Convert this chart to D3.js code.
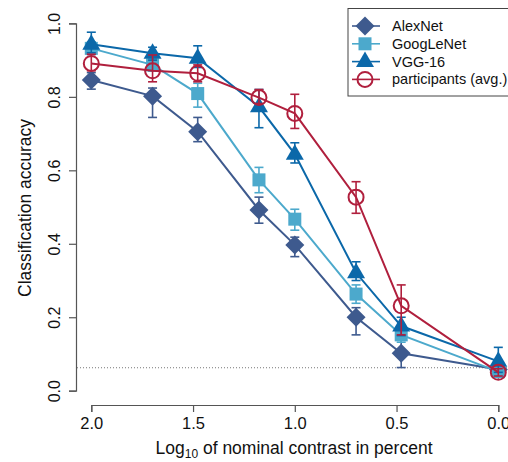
<!DOCTYPE html>
<html><head><meta charset="utf-8">
<script src="https://cdn.jsdelivr.net/npm/d3@7"></script>
<style>body{margin:0;background:#fff}svg{display:block;font-family:"Liberation Sans",Arial,sans-serif}</style>
</head><body><svg id="c" width="508" height="462"></svg>
<script>
const contrasts = [100, 50, 30, 15, 10, 5, 3, 1];
const xTicks = [2.0, 1.5, 1.0, 0.5, 0.0];
const yTicks = [0.0, 0.2, 0.4, 0.6, 0.8, 1.0];
const seriesNames = ["AlexNet", "GoogLeNet", "VGG-16", "participants (avg.)"];
const alexMean = [0.846, 0.802, 0.705, 0.492, 0.397, 0.200, 0.102, 0.058];
const alexLo   = [0.821, 0.744, 0.678, 0.456, 0.365, 0.152, 0.063, 0.050];
const alexHi   = [0.866, 0.824, 0.744, 0.527, 0.418, 0.226, 0.140, 0.066];
const googMean = [0.932, 0.887, 0.809, 0.574, 0.467, 0.263, 0.152, 0.052];
const googLo   = [0.915, 0.870, 0.772, 0.539, 0.437, 0.238, 0.132, 0.045];
const googHi   = [0.950, 0.905, 0.837, 0.608, 0.494, 0.288, 0.170, 0.060];
const vggMean  = [0.943, 0.919, 0.905, 0.773, 0.644, 0.321, 0.176, 0.080];
const vggLo    = [0.920, 0.900, 0.880, 0.716, 0.620, 0.300, 0.150, 0.050];
const vggHi    = [0.976, 0.935, 0.939, 0.820, 0.675, 0.351, 0.200, 0.118];
const partMean = [0.891, 0.871, 0.864, 0.798, 0.755, 0.527, 0.231, 0.050];
const partLo   = [0.871, 0.841, 0.841, 0.782, 0.714, 0.483, 0.152, 0.040];
const partHi   = [0.916, 0.914, 0.887, 0.820, 0.807, 0.569, 0.288, 0.060];
const chance = 1/16;
const colors = ["#3e5a8e", "#4ca9cc", "#0b68a9", "#b01f3d"];
const shapes = ["diamond", "square", "triangle", "circle"];

const series = [
  {name: seriesNames[0], mean: alexMean, lo: alexLo, hi: alexHi},
  {name: seriesNames[1], mean: googMean, lo: googLo, hi: googHi},
  {name: seriesNames[2], mean: vggMean, lo: vggLo, hi: vggHi},
  {name: seriesNames[3], mean: partMean, lo: partLo, hi: partHi}
];
const logC = contrasts.map(c => Math.log10(c));

const svg = d3.select("#c");
const x = d3.scaleLinear().domain([2, 0]).range([91.3, 498.3]);
const y = d3.scaleLinear().domain([0, 1]).range([390.7, 23.4]);

// axes (R style)
const xAxis = svg.append("g").attr("transform", "translate(0,405)")
  .call(d3.axisBottom(x).tickValues(xTicks).tickFormat(d3.format(".1f")).tickSize(7).tickPadding(5));
xAxis.selectAll("text").attr("font-size", 16.5).attr("fill", "#111");
const yAxis = svg.append("g").attr("transform", "translate(76,0)")
  .call(d3.axisLeft(y).tickValues(yTicks).tickFormat(d3.format(".1f")).tickSize(7));
yAxis.selectAll(".tick text").attr("font-size", 16).attr("fill", "#111")
  .attr("x", 0).attr("dy", null).attr("text-anchor", "middle")
  .attr("transform", "translate(-16,0) rotate(-90)");
svg.selectAll(".domain").attr("stroke", "#555").attr("stroke-width", 1.2);
svg.selectAll(".tick line").attr("stroke", "#555").attr("stroke-width", 1.2);

// axis titles
const xt = svg.append("text").attr("x", 294).attr("y", 454).attr("text-anchor", "middle")
  .attr("font-size", 17.5).attr("fill", "#111");
xt.append("tspan").text("Log");
xt.append("tspan").attr("font-size", 12).attr("dy", 4).text("10");
xt.append("tspan").attr("dy", -4).text(" of nominal contrast in percent");
svg.append("text").attr("transform", "translate(31,208) rotate(-90)").attr("text-anchor", "middle")
  .attr("font-size", 17.5).attr("fill", "#111").text("Classification accuracy");

// chance line
svg.append("line").attr("x1", 77).attr("x2", 508).attr("y1", y(chance)).attr("y2", y(chance))
  .attr("stroke", "#777").attr("stroke-width", 1).attr("stroke-dasharray", "1,2");

function marker(g, shape, color, cx, cy) {
  if (shape === "diamond") {
    const r = 9.5;
    g.append("path").attr("d", `M${cx},${cy-r}L${cx+r},${cy}L${cx},${cy+r}L${cx-r},${cy}Z`).attr("fill", color);
  } else if (shape === "square") {
    const s = 13;
    g.append("rect").attr("x", cx - s/2).attr("y", cy - s/2).attr("width", s).attr("height", s).attr("fill", color);
  } else if (shape === "triangle") {
    const r = 10;
    g.append("path").attr("d", `M${cx},${cy-r}L${cx+r*0.9},${cy+r*0.55}L${cx-r*0.9},${cy+r*0.55}Z`).attr("fill", color);
  } else {
    g.append("circle").attr("cx", cx).attr("cy", cy).attr("r", 7.5).attr("fill", "none")
      .attr("stroke", color).attr("stroke-width", 2);
  }
}

series.forEach((s, i) => {
  const col = colors[i];
  const g = svg.append("g");
  // error bars
  logC.forEach((lx, j) => {
    const cx = x(lx);
    g.append("line").attr("x1", cx).attr("x2", cx).attr("y1", y(s.lo[j])).attr("y2", y(s.hi[j]))
      .attr("stroke", col).attr("stroke-width", 1.6);
    [s.lo[j], s.hi[j]].forEach(v => g.append("line").attr("x1", cx - 4.5).attr("x2", cx + 4.5)
      .attr("y1", y(v)).attr("y2", y(v)).attr("stroke", col).attr("stroke-width", 1.6));
  });
  g.append("path").datum(s.mean).attr("fill", "none").attr("stroke", col).attr("stroke-width", 2)
    .attr("d", d3.line().x((d, j) => x(logC[j])).y(d => y(d)));
  s.mean.forEach((v, j) => marker(g, shapes[i], col, x(logC[j]), y(v)));
});

// legend
const lg = svg.append("g");
lg.append("rect").attr("x", 348).attr("y", 8.5).attr("width", 170).attr("height", 87.5)
  .attr("fill", "#fff").attr("stroke", "#444").attr("stroke-width", 1);
seriesNames.forEach((n, i) => {
  const ly = 26 + i * 17.8;
  lg.append("line").attr("x1", 352).attr("x2", 380).attr("y1", ly).attr("y2", ly)
    .attr("stroke", colors[i]).attr("stroke-width", 1.6);
  marker(lg, shapes[i], colors[i], 365, ly);
  lg.append("text").attr("x", 392).attr("y", ly + 5).attr("font-size", 14.5).attr("fill", "#111").text(n);
});
</script></body></html>
